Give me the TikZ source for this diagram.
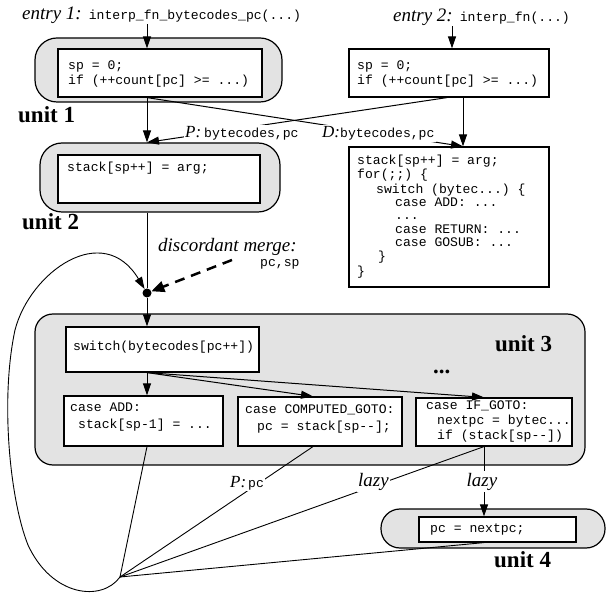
\documentclass[tikz,border=0pt]{standalone}
\usepackage{fontspec}
\setmainfont{Liberation Serif}
\setmonofont{Liberation Mono}
\usetikzlibrary{arrows.meta}
\newcommand\cdf{\ttfamily\fontsize{13.1}{15}\selectfont}
\newcommand\lbf{\rmfamily\itshape\fontsize{19}{21}\selectfont}
\newcommand\sbf{\rmfamily\itshape\fontsize{17}{19}\selectfont}
\begin{document}
\begin{tikzpicture}[x=1pt,y=-1pt,
  gbox/.style={draw, fill=black!11, line width=1.2pt, inner sep=0pt, rounded corners=#1},
  gbox/.default=20pt,
  ibox/.style={draw, fill=white, line width=1.2pt, inner sep=0pt},
  code/.style={font=\cdf, align=left, inner sep=0pt, anchor=west},
  ulab/.style={font=\rmfamily\bfseries\fontsize{23}{25}\selectfont, inner sep=0pt, anchor=base west},
  arr/.style={line width=1pt, -{Triangle[length=12pt,width=8pt]}},
  conn/.style={line width=0.9pt},
  dasharr/.style={line width=2.5pt, dash pattern=on 10pt off 7pt, -{Triangle[length=13pt,width=11pt]}},
  wl/.style={fill=white, inner sep=1.5pt, anchor=base west}]
\useasboundingbox (0,0) rectangle (608,593);

% helper columns
\coordinate (cA) at (147,0);
\coordinate (cE2) at (452,0);
\coordinate (cR) at (463,0);
\coordinate (cB) at (447,0);
\coordinate (cG) at (313,0);
\coordinate (cI) at (484,0);
\coordinate (F) at (120,577);
\coordinate (dms) at (232,260);

% entries
\node[inner sep=0pt, anchor=base west] (e1) at (22,20) {{\lbf entry 1:}\hspace{7pt}{\cdf interp\_fn\_bytecodes\_pc(...)}};
\node[inner sep=0pt, anchor=base west] (e2) at (393,22) {{\lbf entry 2:}\hspace{7pt}{\cdf interp\_fn(...)}};

% unit 1
\node[gbox=22pt, minimum width=247pt, minimum height=64pt] (u1) at (158.5,70) {};
\node[ibox, minimum width=204pt, minimum height=48pt] (u1in) at (160,73) {};
\node[code] (u1t) at (68,74.5) {\strut sp = 0;\\\strut if (++count[pc] >= ...)};
\node[ulab] (u1l) at (18,123) {unit 1};

% right box 1
\node[ibox, minimum width=200pt, minimum height=48pt] (r1) at (449,73) {};
\node[code] (r1t) at (357,74.5) {\strut sp = 0;\\\strut if (++count[pc] >= ...)};

% unit 2
\node[gbox=22pt, minimum width=240pt, minimum height=69pt] (u2) at (160,177.5) {};
\node[ibox, minimum width=202pt, minimum height=48pt] (u2in) at (159,179) {};
\node[code] (u2t) at (67,168) {stack[sp++] = arg;};
\node[ulab] (u2l) at (22,230) {unit 2};

% right box 2
\node[ibox, minimum width=200pt, minimum height=140pt] (r2) at (449,217) {};
\node[code, font=\ttfamily\fontsize{13.1}{13.25}\selectfont] (r2t) at (357,217) {\strut stack[sp++] = arg;\\
\strut for(;;) \{\\
\strut\hspace*{19pt}switch (bytec...) \{\\
\strut\hspace*{38pt}case ADD: ...\\
\strut\hspace*{38pt}...\\
\strut\hspace*{38pt}case RETURN: ...\\
\strut\hspace*{38pt}case GOSUB: ...\\
\strut\hspace*{21pt}\}\\
\strut\}};

% unit 3
\node[gbox=18pt, minimum width=550pt, minimum height=151pt] (u3) at (310,389.5) {};
\node[ibox, minimum width=193pt, minimum height=45pt] (sw) at (162.5,349.5) {};
\node[code] (swt) at (73,347) {switch(bytecodes[pc++])};
\node[ibox, minimum width=159pt, minimum height=50pt] (add) at (143.5,421) {};
\node[code, font=\ttfamily\fontsize{13.1}{17}\selectfont] (addt) at (70,416.5) {\strut case ADD:\\\strut\hspace*{8pt}stack[sp-1] = ...};
\node[ibox, minimum width=164pt, minimum height=49pt] (cgo) at (320,421.5) {};
\node[code, font=\ttfamily\fontsize{13.1}{17}\selectfont] (cgot) at (245,418.5) {\strut case COMPUTED\_GOTO:\\\strut\hspace*{12pt}pc = stack[sp--];};
\node[ibox, minimum width=156pt, minimum height=48pt] (ifg) at (494,422) {};
\node[code] (ifgt) at (426,422) {\strut case IF\_GOTO:\\\strut\hspace*{11pt}nextpc = bytec...\\\strut\hspace*{11pt}if (stack[sp--])};
\node[ulab] (u3l) at (495,352) {unit 3};
\node[ulab] (u3d) at (433,374) {...};

% unit 4
\node[gbox=19pt, minimum width=224pt, minimum height=39pt] (u4) at (493,528.5) {};
\node[ibox, minimum width=157pt, minimum height=25pt] (u4in) at (497.5,529.5) {};
\node[code] (u4t) at (430,529) {pc = nextpc;};
\node[ulab] (u4l) at (494,567) {unit 4};

% merge dot
\node[circle, fill=black, inner sep=0pt, minimum size=9pt] (dot) at (147,293) {};

% connectors
\draw[arr] (e1.south -| cA) -- (u1in.north -| cA);
\draw[arr] (e2.south -| cE2) -- (r1.north -| cE2);
\draw[arr] (u1in.south -| cA) -- (u2.north -| cA);
\draw[arr] (u1in.south -| cA) -- (r2.north -| cR);
\draw[arr] (r1.south -| cB) -- (u2.north -| cA);
\draw[arr] (r1.south -| cR) -- (r2.north -| cR);
\draw[conn] (u2.south -| cA) -- (dot);
\draw[arr] (dot) -- (sw.north -| cA);
\draw[dasharr] (dms) -- (dot);
\draw[arr] (sw.south -| cA) -- (add.north -| cA);
\draw[arr] (sw.south -| cA) -- (cgo.north -| cG);
\draw[arr] (sw.south -| cA) -- (ifg.north -| cI);
\draw[conn] (F) -- (add.south -| cA);
\draw[conn] (F) -- (cgo.south -| cG);
\draw[conn] (F) -- (ifg.south -| cI);
\draw[conn] (F) -- (u4in.south -| cI);
\draw[arr] (ifg.south -| cI) -- (u4in.north -| cI);
\draw[arr, line width=0.9pt] (F) .. controls (102,602) and (52,597) .. (28,545)
  .. controls (10,500) and (0,400) .. (15,330)
  .. controls (30,272) and (103,220) .. (dot);

% labels on connectors
\node[wl] (lP) at (183.5,138) {{\sbf P:}\hspace{3pt}{\cdf bytecodes,pc}};
\node[wl] (lD) at (320.5,138) {{\sbf D:}{\cdf bytecodes,pc}};
\node[wl] (lPpc) at (228.5,487) {{\sbf P:}\hspace{2pt}{\cdf pc}};
\node[wl] (lz1) at (356.5,486) {{\lbf lazy}};
\node[wl, anchor=base] (lz2) at (482,486) {{\lbf lazy}};
\node[inner sep=0pt, anchor=base west] (dmt) at (158,252) {{\lbf discordant merge:}};
\node[inner sep=0pt, anchor=base west] (dmpc) at (260,267) {{\cdf pc,sp}};
\end{tikzpicture}
\end{document}
